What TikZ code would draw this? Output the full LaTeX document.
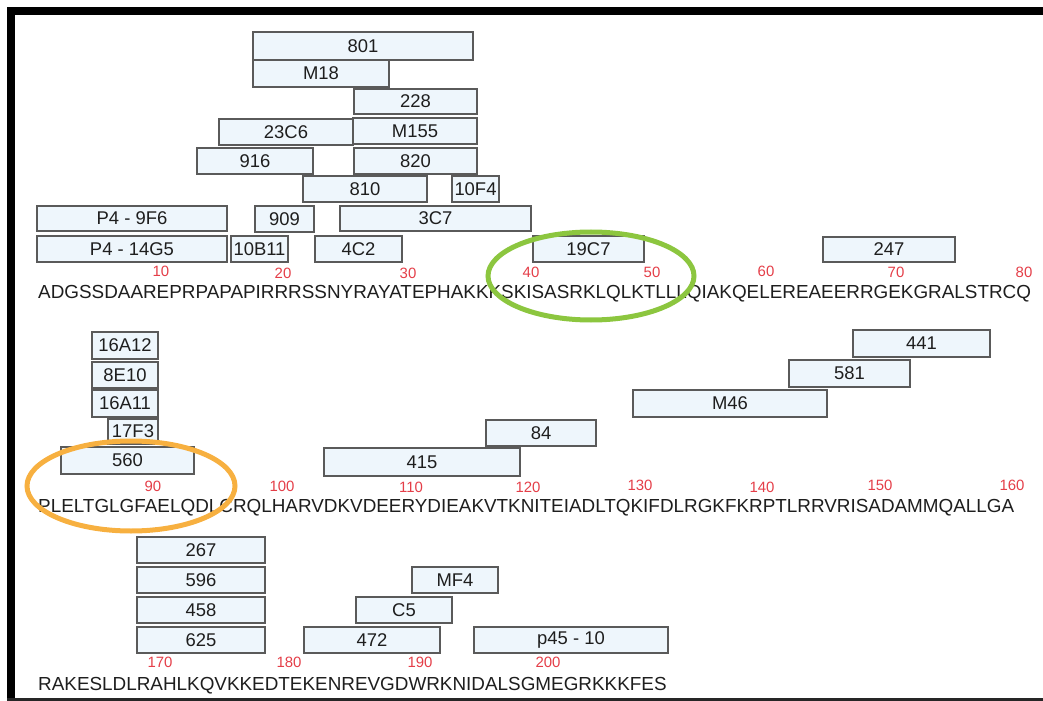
\documentclass[tikz,border=0pt]{standalone}
\usepackage{fontspec}
\setmainfont{Liberation Sans}
\definecolor{boxfill}{RGB}{238,246,252}
\definecolor{boxline}{RGB}{90,90,90}
\definecolor{numred}{RGB}{228,62,72}
\definecolor{ringgreen}{RGB}{140,198,63}
\definecolor{ringorange}{RGB}{247,176,64}
\definecolor{seqtext}{RGB}{30,30,30}
\newcommand\abbox[6]{\node[abbox, minimum width=#4bp-#2bp, minimum height=#5bp-#3bp] (#1) at ({(#2+#4)/2},{(#3+#5)/2}) {#6};}
\begin{document}
\begin{tikzpicture}[x=1bp,y=-1bp,
  abbox/.style={draw=boxline, fill=boxfill, line width=1.5bp, inner sep=0pt, text=seqtext, font=\fontsize{18.5}{19}\selectfont},
  seqline/.style={anchor=base west, inner sep=0pt, text=seqtext, font=\fontsize{18.95}{20}\selectfont},
  poslabel/.style={anchor=center, inner sep=0pt, text=numred, font=\fontsize{15}{16}\selectfont},
  ring/.style={line width=5bp}]
\useasboundingbox (0,0) rectangle (1043,701);
% frame
\fill[black] (7,7) rectangle (15,701);
\fill[black] (7,7) rectangle (1043,15);
\fill[black!85] (7,698) rectangle (1043,700.5);
% row 1 boxes
\abbox{m801}{253}{32}{473}{60}{801}
\abbox{mM18}{253}{60}{389}{87}{M18}
\abbox{m228}{354}{89}{477}{114}{228}
\abbox{m23C6}{219}{119}{353}{145}{23C6}
\abbox{mM155}{353}{118}{477}{144}{M155}
\abbox{m916}{197}{148}{313}{174}{916}
\abbox{m820}{354}{148}{477}{174}{820}
\abbox{m810}{303}{176}{427}{202}{810}
\abbox{m10F4}{452}{176}{499}{202}{10F4}
\abbox{mP4nF6}{37}{206}{227}{231}{P4 - 9F6}
\abbox{m909}{255}{206}{314}{232}{909}
\abbox{m3C7}{340}{206}{531}{231}{3C7}
\abbox{mP4G5}{37}{236}{227}{262}{P4 - 14G5}
\abbox{m10B11}{231}{236}{288}{262}{10B11}
\abbox{m4C2}{315}{236}{402}{262}{4C2}
\abbox{m19C7}{533}{236}{644}{262}{19C7}
\abbox{m247}{823}{237}{955}{262}{247}
% row 2 boxes
\abbox{m16A12}{92}{332}{158}{359}{16A12}
\abbox{m8E10}{92}{362}{158}{388}{8E10}
\abbox{m16A11}{92}{390}{158}{417}{16A11}
\abbox{m17F3}{108}{419}{158}{444}{17F3}
\abbox{m560}{61}{447}{194}{474}{560}
\abbox{m415}{324}{448}{520}{476}{415}
\abbox{m84}{486}{420}{596}{446}{84}
\abbox{mM46}{633}{390}{827}{417}{M46}
\abbox{m581}{789}{360}{910}{387}{581}
\abbox{m441}{853}{330}{990}{357}{441}
% row 3 boxes
\abbox{m267}{137}{537}{265}{563}{267}
\abbox{m596}{137}{567}{265}{593}{596}
\abbox{m458}{137}{597}{265}{623}{458}
\abbox{m625}{137}{627}{265}{653}{625}
\abbox{mMF4}{412}{567}{498}{593}{MF4}
\abbox{mC5}{356}{597}{452}{623}{C5}
\abbox{m472}{304}{627}{440}{653}{472}
\abbox{mp45}{474}{627}{668}{653}{p45 - 10}
% sequences
\node[seqline] (seq1) at (38,298) {ADGSSDAAREPRPAPAPIRRRSSNYRAYATEPHAKKKSKISASRKLQLKTLLLQIAKQELEREAEERRGEKGRALSTRCQ};
\node[seqline] (seq2) at (38,512) {PLELTGLGFAELQDLCRQLHARVDKVDEERYDIEAKVTKNITEIADLTQKIFDLRGKFKRPTLRRVRISADAMMQALLGA};
\node[seqline] (seq3) at (38,690) {RAKESLDLRAHLKQVKKEDTEKENREVGDWRKNIDALSGMEGRKKKFES};
% position labels
\node[poslabel] (p10) at (161,271) {10};
\node[poslabel] (p20) at (283,273) {20};
\node[poslabel] (p30) at (408,273) {30};
\node[poslabel] (p40) at (531,272) {40};
\node[poslabel] (p50) at (652,272) {50};
\node[poslabel] (p60) at (766,271) {60};
\node[poslabel] (p70) at (896,272) {70};
\node[poslabel] (p80) at (1024,272) {80};
\node[poslabel] (p90) at (153,486) {90};
\node[poslabel] (p100) at (282,486) {100};
\node[poslabel] (p110) at (411,487) {110};
\node[poslabel] (p120) at (528,487) {120};
\node[poslabel] (p130) at (640,485) {130};
\node[poslabel] (p140) at (762,487) {140};
\node[poslabel] (p150) at (880,485) {150};
\node[poslabel] (p160) at (1012,485) {160};
\node[poslabel] (p170) at (160,662) {170};
\node[poslabel] (p180) at (289,662) {180};
\node[poslabel] (p190) at (420,662) {190};
\node[poslabel] (p200) at (548,662) {200};
% highlight rings
\draw[ring, ringgreen] (591,276) ellipse [x radius=103bp, y radius=44bp];
\draw[ring, ringorange] (131,486) ellipse [x radius=104bp, y radius=45bp];
\end{tikzpicture}
\end{document}
